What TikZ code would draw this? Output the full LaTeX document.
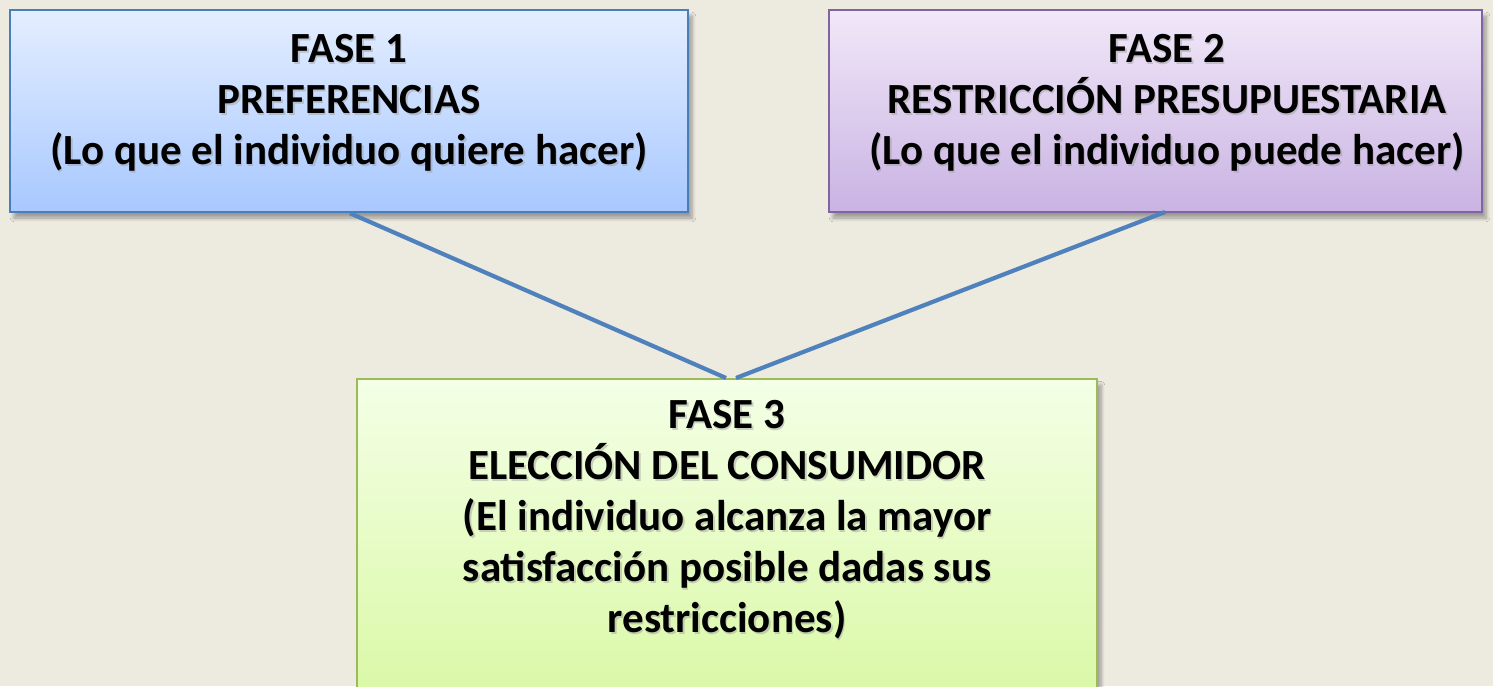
\documentclass[tikz,border=0pt]{standalone}
\usepackage{fontspec}
\setmainfont{Carlito}
\usetikzlibrary{calc,shadows.blur}
\definecolor{bgc}{HTML}{EDEAE0}
\definecolor{blueline}{HTML}{4A7EBB}
\definecolor{purpline}{HTML}{8064A2}
\definecolor{greenline}{HTML}{9BBB59}
\definecolor{b1top}{HTML}{E4EEFF}
\definecolor{b1bot}{HTML}{A8C8FF}
\definecolor{b2top}{HTML}{F1E8F8}
\definecolor{b2bot}{HTML}{C9B3E3}
\definecolor{b3top}{HTML}{F4FFE6}
\definecolor{b3bot}{HTML}{D8F8A2}
\definecolor{connc}{HTML}{4F81BD}
\tikzset{
  phasebox/.style={rectangle, line width=1.2pt, inner sep=0pt,
    blur shadow={shadow xshift=2pt, shadow yshift=-3pt, shadow blur steps=6, shadow opacity=35}},
  phasetext/.style={align=center, font=\bfseries\fontsize{21.5pt}{25.5pt}\selectfont, text=black, inner sep=0pt},
  shadowtext/.style={phasetext, text=black!40, opacity=0.45},
  conn/.style={draw=connc, line width=2.1pt}
}
\begin{document}
\begin{tikzpicture}[x=0.5pt,y=-0.5pt]
\useasboundingbox (0,0) rectangle (1493,686);
\fill[bgc] (0,0) rectangle (1493,686);
\begin{scope}
\clip (0,0) rectangle (1493,686);
\node[phasebox, draw=blueline, top color=b1top, bottom color=b1bot,
  minimum width=339pt, minimum height=101pt] (box1) at (349,111) {};
\node[phasebox, draw=purpline, top color=b2top, bottom color=b2bot,
  minimum width=326.5pt, minimum height=101pt] (box2) at (1155.5,111) {};
\node[phasebox, draw=greenline, top color=b3top, bottom color=b3bot,
  minimum width=370pt, minimum height=170pt, anchor=north] (box3) at (727,378) {};
\end{scope}
\coordinate (c1) at ($(box1.south)+(1,0)$);
\coordinate (c2) at (1165,212);
\coordinate (e1) at ($(box3.north)+(-1,0)$);
\coordinate (e2) at ($(box3.north)+(9,0)$);
\draw[conn] (c1) -- (e1);
\draw[conn] (c2) -- (e2);
\node[shadowtext] (t1s) at (350.5,104.5) {FASE 1\\PREFERENCIAS\\(Lo que el individuo quiere hacer)};
\node[phasetext] (t1) at (349,103) {FASE 1\\PREFERENCIAS\\(Lo que el individuo quiere hacer)};
\node[shadowtext] (t2s) at (1168.5,104.5) {FASE 2\\RESTRICCIÓN PRESUPUESTARIA\\(Lo que el individuo puede hacer)};
\node[phasetext] (t2) at (1167,103) {FASE 2\\RESTRICCIÓN PRESUPUESTARIA\\(Lo que el individuo puede hacer)};
\node[shadowtext] (t3s) at (728.5,521.5) {FASE 3\\ELECCIÓN DEL CONSUMIDOR\\(El individuo alcanza la mayor\\satisfacción posible dadas sus\\restricciones)};
\node[phasetext] (t3) at (727,520) {FASE 3\\ELECCIÓN DEL CONSUMIDOR\\(El individuo alcanza la mayor\\satisfacción posible dadas sus\\restricciones)};
\end{tikzpicture}
\end{document}
